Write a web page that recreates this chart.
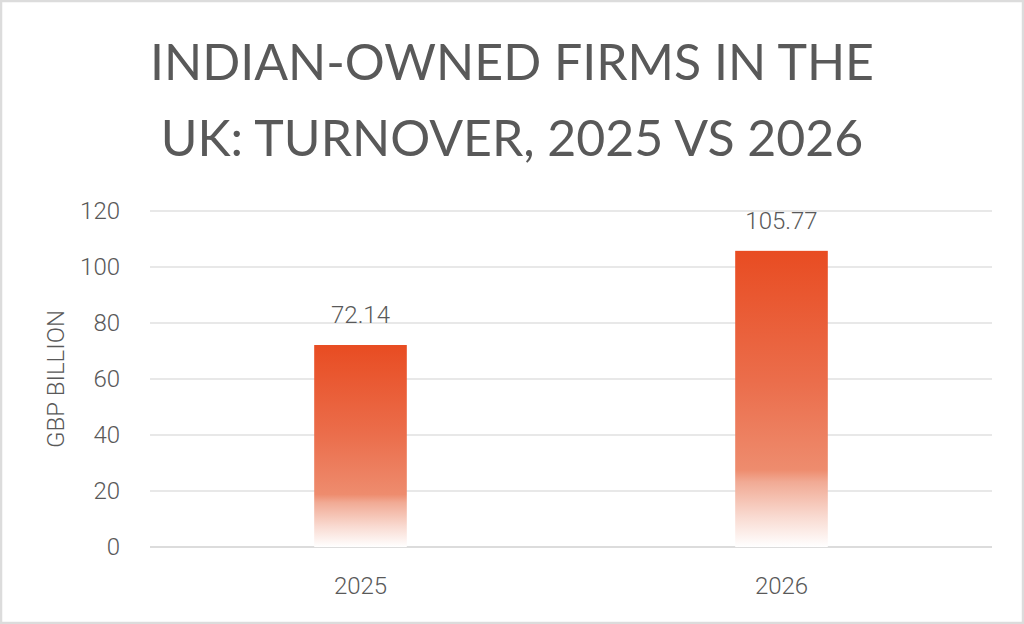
<!DOCTYPE html>
<html>
<head>
<meta charset="utf-8">
<script src="https://cdn.jsdelivr.net/npm/d3@7"></script>
<style>
  body { margin: 0; background: #fff; }
  svg text { fill: #595959; }
</style>
</head>
<body>
<div id="chart"></div>
<script>
const years = ['2025', '2026']
const turnover = [72.14, 105.77]
const yTicks = [0, 20, 40, 60, 80, 100, 120]
const titleLines = ['INDIAN-OWNED FIRMS IN THE', 'UK: TURNOVER, 2025 VS 2026']
const yLabel = 'GBP BILLION'

const W = 1024
const H = 624
const margin = { top: 211, left: 150, right: 32, bottom: 77 }
const width = W - margin.left - margin.right
const height = H - margin.top - margin.bottom

const svg = d3
  .select('#chart')
  .append('svg')
  .attr('width', W)
  .attr('height', H)

// outer frame
svg
  .append('rect')
  .attr('x', 1)
  .attr('y', 1)
  .attr('width', W - 2)
  .attr('height', H - 2)
  .attr('fill', '#fff')
  .attr('stroke', '#dcdcdc')
  .attr('stroke-width', 2.5)

const grad = svg
  .append('defs')
  .append('linearGradient')
  .attr('id', 'barFill')
  .attr('x1', 0)
  .attr('y1', 0)
  .attr('x2', 0)
  .attr('y2', 1)

const stops = [
  [0, '#e84c22'],
  [0.45, '#eb6e4c'],
  [0.74, '#ee8c6e'],
  [0.78, '#f1aa94'],
  [0.9, '#f9dbd2'],
  [1, '#ffffff']
]
grad
  .selectAll('stop')
  .data(stops)
  .enter()
  .append('stop')
  .attr('offset', d => d[0])
  .attr('stop-color', d => d[1])

// title
svg
  .append('g')
  .selectAll('text')
  .data(titleLines)
  .enter()
  .append('text')
  .attr('x', W / 2)
  .attr('y', (d, i) => 80 + i * 76)
  .attr('text-anchor', 'middle')
  .attr('font-family', 'Lato, sans-serif')
  .attr('font-size', 50)
  .text(d => d)

const g = svg
  .append('g')
  .attr('transform', `translate(${margin.left},${margin.top})`)

const x = d3
  .scaleBand()
  .domain(years)
  .range([0, width])

const y = d3
  .scaleLinear()
  .domain([0, 120])
  .range([height, 0])

const barWidth = x.bandwidth() * 0.22

// gridlines
g.append('g')
  .selectAll('line')
  .data(yTicks)
  .enter()
  .append('line')
  .attr('x1', 0)
  .attr('x2', width)
  .attr('y1', d => y(d))
  .attr('y2', d => y(d))
  .attr('stroke', d => (d === 0 ? '#d0d0d0' : '#e0e0e0'))
  .attr('stroke-width', 1.5)

// y axis
const yAxis = g
  .append('g')
  .call(
    d3
      .axisLeft(y)
      .tickValues(yTicks)
      .tickSize(0)
      .tickPadding(30)
  )
yAxis.select('.domain').remove()
yAxis
  .selectAll('text')
  .attr('font-family', 'Roboto, sans-serif')
  .attr('font-weight', 300)
  .attr('font-size', 24)
  .attr('fill', '#595959')

// x axis
const xAxis = g
  .append('g')
  .attr('transform', `translate(0,${height})`)
  .call(
    d3
      .axisBottom(x)
      .tickSize(0)
      .tickPadding(30)
  )
xAxis.select('.domain').remove()
xAxis
  .selectAll('text')
  .attr('font-family', 'Roboto, sans-serif')
  .attr('font-weight', 300)
  .attr('font-size', 24)
  .attr('fill', '#595959')

svg
  .append('text')
  .attr('transform', `translate(64,${margin.top + y(60)}) rotate(-90)`)
  .attr('text-anchor', 'middle')
  .attr('font-family', 'Roboto, sans-serif')
  .attr('font-weight', 300)
  .attr('font-size', 24)
  .text(yLabel)

// bars
const data = years.map((d, i) => ({ year: d, value: turnover[i] }))

g.append('g')
  .selectAll('rect')
  .data(data)
  .enter()
  .append('rect')
  .attr('x', d => x(d.year) + x.bandwidth() / 2 - barWidth / 2)
  .attr('y', d => y(d.value))
  .attr('width', barWidth)
  .attr('height', d => y(0) - y(d.value))
  .attr('fill', 'url(#barFill)')

g.append('g')
  .selectAll('text')
  .data(data)
  .enter()
  .append('text')
  .attr('x', d => x(d.year) + x.bandwidth() / 2)
  .attr('y', d => y(d.value) - 22)
  .attr('text-anchor', 'middle')
  .attr('font-family', 'Roboto, sans-serif')
  .attr('font-weight', 300)
  .attr('font-size', 24)
  .text(d => d.value.toFixed(2))
</script>
</body>
</html>
